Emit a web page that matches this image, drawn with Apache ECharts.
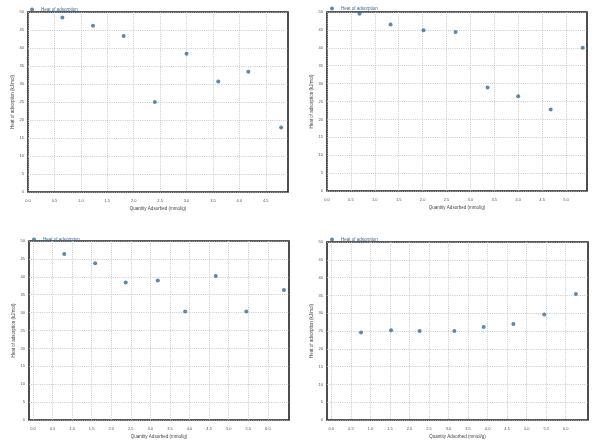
<!DOCTYPE html>
<html>
<head>
<meta charset="utf-8">
<script src="https://cdn.jsdelivr.net/npm/echarts@6/dist/echarts.min.js"></script>
<style>html,body{margin:0;padding:0;background:#fff}#c{width:600px;height:440px}</style>
</head>
<body>
<div id="c"></div>
<script>
var seriesName = 'Heat of adsorption';
var xTitle = 'Quantity Adsorbed (mmol/g)';
var yTitle = 'Heat of adsorption (kJ/mol)';

var x1 = [0.65, 1.23, 1.81, 2.40, 3.00, 3.60, 4.17, 4.79];
var y1 = [48.5, 46.2, 43.3, 25.0, 38.4, 30.7, 33.4, 17.9];
var x2 = [0.68, 1.33, 2.02, 2.69, 3.36, 4.00, 4.68, 5.35];
var y2 = [49.5, 46.5, 44.9, 44.4, 28.9, 26.5, 22.8, 40.0];
var x3 = [0.80, 1.59, 2.37, 3.19, 3.89, 4.67, 5.45, 6.41];
var y3 = [46.4, 43.8, 38.4, 39.0, 30.3, 40.2, 30.3, 36.3];
var x4 = [0.76, 1.53, 2.26, 3.15, 3.90, 4.66, 5.45, 6.26];
var y4 = [24.6, 25.2, 25.0, 25.0, 26.1, 27.0, 29.6, 35.4];

var xTicks1 = [0, 0.5, 1.0, 1.5, 2.0, 2.5, 3.0, 3.5, 4.0, 4.5];
var xTicks2 = [0, 0.5, 1.0, 1.5, 2.0, 2.5, 3.0, 3.5, 4.0, 4.5, 5.0];
var xTicks3 = [0, 0.5, 1.0, 1.5, 2.0, 2.5, 3.0, 3.5, 4.0, 4.5, 5.0, 5.5, 6.0];
var xTicks4 = [0, 0.5, 1.0, 1.5, 2.0, 2.5, 3.0, 3.5, 4.0, 4.5, 5.0, 5.5, 6.0];
var xRanges = [[0, 4.92], [0, 5.44], [-0.1, 6.54], [-0.11, 6.57]];

var grids = [
  {left: 28, top: 12, width: 260, height: 180},
  {left: 327, top: 12, width: 260, height: 179},
  {left: 29, top: 241, width: 260, height: 180},
  {left: 327, top: 242, width: 261, height: 179}
];
var legendPos = [
  {left: 30, top: 7},
  {left: 330, top: 6},
  {left: 32, top: 237},
  {left: 330, top: 237}
];

var xs = [x1, x2, x3, x4];
var ys = [y1, y2, y3, y4];
var xTicks = [xTicks1, xTicks2, xTicks3, xTicks4];

var dotted = {show: true, lineStyle: {color: '#bdbdbd', type: [1, 1.2], width: 0.8}};
var labelColor = '#555';

var option = {
  backgroundColor: '#fff',
  animation: false,
  grid: grids.map(function (g) {
    return Object.assign({show: true, borderColor: '#222', borderWidth: 1.6, backgroundColor: 'transparent'}, g);
  }),
  legend: legendPos.map(function (p) {
    return {
      data: [seriesName], left: p.left, top: p.top, icon: 'circle',
      itemWidth: 4, itemHeight: 4, itemGap: 2, padding: 0,
      textStyle: {fontSize: 4.5, color: '#3a6d96', padding: [0, 0, 0, 2]},
      selectedMode: false
    };
  }),
  xAxis: xs.map(function (_, i) {
    return {
      type: 'value', gridIndex: i, min: xRanges[i][0], max: xRanges[i][1],
      name: xTitle, nameLocation: 'middle', nameGap: 14,
      nameTextStyle: {fontSize: 4.5, color: '#444'},
      axisLine: {show: false},
      axisTick: {show: false, customValues: xTicks[i]},
      axisLabel: {fontSize: 4, color: labelColor, margin: 7, customValues: xTicks[i],
        formatter: function (v) { return Number(v).toFixed(1); }},
      splitLine: dotted
    };
  }),
  yAxis: xs.map(function (_, i) {
    return {
      type: 'value', gridIndex: i, min: 0, max: 50, interval: 5,
      name: yTitle, nameLocation: 'middle', nameGap: 11,
      nameTextStyle: {fontSize: 4.5, color: '#444'},
      axisLine: {show: false},
      axisTick: {show: false},
      axisLabel: {fontSize: 4, color: labelColor, margin: 4},
      splitLine: dotted
    };
  }),
  series: xs.map(function (xarr, i) {
    return {
      name: seriesName, type: 'scatter', xAxisIndex: i, yAxisIndex: i,
      symbol: 'circle', symbolSize: 4,
      itemStyle: {color: '#2e6e9c'},
      data: xarr.map(function (x, j) { return [x, ys[i][j]]; })
    };
  })
};

var chart = echarts.init(document.getElementById('c'), null, {renderer: 'canvas'});
chart.setOption(option);
</script>
</body>
</html>
